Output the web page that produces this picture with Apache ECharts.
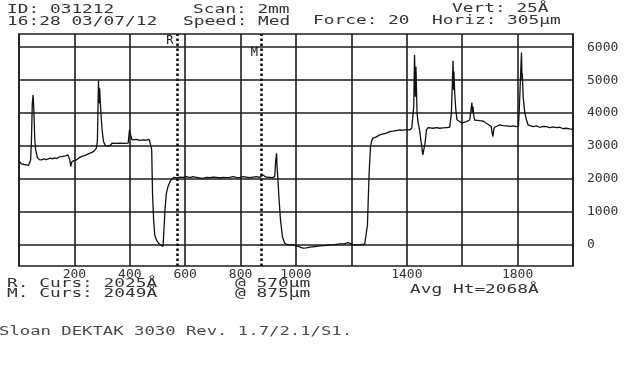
<!DOCTYPE html>
<html><head><meta charset="utf-8">
<script src="https://cdn.jsdelivr.net/npm/echarts@6/dist/echarts.min.js"></script>
<style>html,body{margin:0;padding:0;background:#fff}#c{width:631px;height:367px}</style>
</head><body><div id="c"></div>
<script>
// Scan position (µm)
const positionsUm = [0,5,9,14,18,21,26,30,34,39,42,45,48,51,53,55,57,60,66,73,81,90,98,105,113,121,129,137,145,153,160,168,177,181,183,187,191,199,207,216,225,234,243,252,261,270,279,283,285,287,289,291,295,300,305,312,320,328,334,336,350,365,380,394,399,403,408,415,425,435,442,450,460,470,477,479,482,486,490,496,504,512,520,525,527,532,538,547,558,570,580,592,605,617,628,640,652,664,677,690,700,713,725,737,750,761,773,785,797,809,820,833,845,857,869,881,890,905,915,923,927,930,932,934,939,944,951,959,970,977,990,1001,1013,1025,1038,1050,1068,1086,1104,1122,1140,1158,1175,1188,1194,1206,1218,1230,1248,1254,1258,1260,1264,1269,1273,1278,1290,1302,1315,1326,1338,1350,1362,1374,1386,1398,1410,1418,1422,1425,1428,1431,1433,1437,1441,1446,1452,1458,1461,1466,1471,1477,1483,1495,1507,1519,1531,1543,1555,1561,1564,1567,1569,1570,1573,1577,1581,1585,1595,1603,1615,1627,1632,1635,1637,1639,1642,1645,1655,1663,1675,1687,1697,1705,1708,1711,1714,1717,1725,1735,1748,1760,1772,1785,1795,1803,1807,1811,1814,1816,1817,1820,1826,1832,1838,1847,1856,1868,1880,1892,1904,1916,1928,1940,1952,1964,1976,1988,2000];
// Height (Å)
const heightsA = [2530,2470,2460,2420,2440,2400,2430,2460,2410,2400,2580,3190,4300,4550,4200,3700,3190,2900,2660,2590,2580,2610,2590,2600,2630,2610,2640,2620,2670,2680,2660,2700,2730,2700,2580,2380,2530,2560,2580,2640,2680,2700,2730,2770,2800,2840,2930,3140,4100,4980,4300,4750,4100,3490,3140,3010,3000,3010,3005,3086,3080,3090,3080,3086,3490,3340,3190,3180,3200,3170,3166,3190,3180,3200,3200,2900,1570,760,300,150,50,0,-50,-40,1060,1570,1770,1950,2050,2030,2060,2050,2070,2040,2070,2050,2030,2020,2050,2040,2060,2050,2030,2050,2040,2050,2070,2050,2040,2070,2060,2040,2060,2070,2050,2120,2060,2050,2040,2070,2580,2780,2300,2070,1370,760,250,50,0,50,0,-30,-60,-100,-90,-70,-50,-30,-20,0,10,30,40,70,20,10,0,10,20,50,600,1160,2180,2980,3150,3240,3280,3340,3370,3390,3440,3450,3470,3490,3480,3500,3490,3550,3590,4200,5770,4500,5410,4000,3700,3490,3100,2730,2740,3100,3490,3560,3570,3540,3560,3540,3550,3560,3570,4000,4800,5590,4700,5260,4600,4100,3800,3740,3720,3710,3740,3790,3850,4320,4000,4200,3900,3790,3780,3770,3760,3690,3640,3590,3400,3290,3500,3570,3600,3640,3620,3610,3600,3610,3590,3600,4300,5200,5840,5000,5210,4500,4000,3800,3640,3610,3590,3610,3570,3600,3590,3560,3580,3560,3570,3530,3540,3520,3510];
const xTickLabels = [200,400,600,800,1000,1400,1800];
const yTickValues = [0,1000,2000,3000,4000,5000,6000];
const cursorPositions = [570, 875];
const cursorNames = ['R', 'M'];
const cursorLabelHeights = [6190, 5830];
const headerTexts = ['ID: 031212', 'Scan: 2mm', 'Vert: 25Å', '16:28 03/07/12', 'Speed: Med', 'Force: 20', 'Horiz: 305µm'];
const footerTexts = ['R. Curs: 2025Å', '@ 570µm', 'M. Curs: 2049Å', '@ 875µm', 'Avg Ht=2068Å', 'Sloan DEKTAK 3030 Rev. 1.7/2.1/S1.'];

const FONT = '"DejaVu Sans Mono", "Liberation Mono", monospace';
const SX = 1.55;
const TXT = '#333';
function txt(s, x, y, fill, sx) {
  return {type:'text', x:x, y:y, scaleX: sx || SX, silent:true,
    style:{text:s, fill: fill || TXT, font:'11.5px ' + FONT, verticalAlign:'middle', align:'left'}};
}
const gridColor = '#1c1c1c';
const chart = echarts.init(document.getElementById('c'), null, {renderer:'canvas'});
chart.setOption({
  animation:false,
  backgroundColor:'#fff',
  textStyle:{fontFamily:FONT},
  grid:{left:19, right:58, top:34, bottom:101, show:true, borderColor:gridColor, borderWidth:1.6, containLabel:false},
  xAxis:{type:'value', min:0, max:2000, interval:200,
    axisLine:{show:false}, axisTick:{show:false},
    splitLine:{show:true, lineStyle:{color:gridColor, width:1.6}},
    axisLabel:{customValues:xTickLabels, margin:2, fontSize:13, color:TXT, fontFamily:FONT, formatter:v=>String(v)}},
  yAxis:{type:'value', min:-640, max:6400, position:'right',
    axisLine:{show:false}, axisTick:{show:false, customValues:yTickValues},
    splitLine:{show:true, lineStyle:{color:gridColor, width:1.6}},
    axisLabel:{customValues:yTickValues, margin:14, fontSize:13, color:TXT, fontFamily:FONT, padding:[0,0,8,0], formatter:v=>String(v)}},
  series:[{
    type:'line', symbol:'none', smooth:false,
    data: positionsUm.map((x,i)=>[x, heightsA[i]]),
    lineStyle:{color:'#111', width:1.3},
    markLine:{silent:true, symbol:'none', label:{show:false},
      lineStyle:{color:'#111', width:2.6, type:[2.6,2.4]},
      data: cursorPositions.map(v=>({xAxis:v}))},
    markPoint:{silent:true, symbol:'rect', symbolSize:1, itemStyle:{color:'rgba(0,0,0,0)'},
      label:{show:true, position:'left', distance:3, formatter:p=>p.name, color:'#111', fontSize:12, fontFamily:FONT},
      data: cursorPositions.map((v,i)=>({name:cursorNames[i], coord:[v, cursorLabelHeights[i]]}))}
  }],
  graphic:[
    txt(headerTexts[0], 7, 10), txt(headerTexts[1], 193, 10), txt(headerTexts[2], 452, 9),
    txt(headerTexts[3], 7, 22.5), txt(headerTexts[4], 183, 22.5), txt(headerTexts[5], 313, 21.5), txt(headerTexts[6], 432, 21.5),
    txt(footerTexts[0], 7, 284), txt(footerTexts[1], 235, 284),
    txt(footerTexts[2], 7, 294), txt(footerTexts[3], 235, 294),
    txt(footerTexts[4], 410, 290),
    txt(footerTexts[5], -1, 332, '#4a4a4a', 1.5)
  ]
});
</script></body></html>
